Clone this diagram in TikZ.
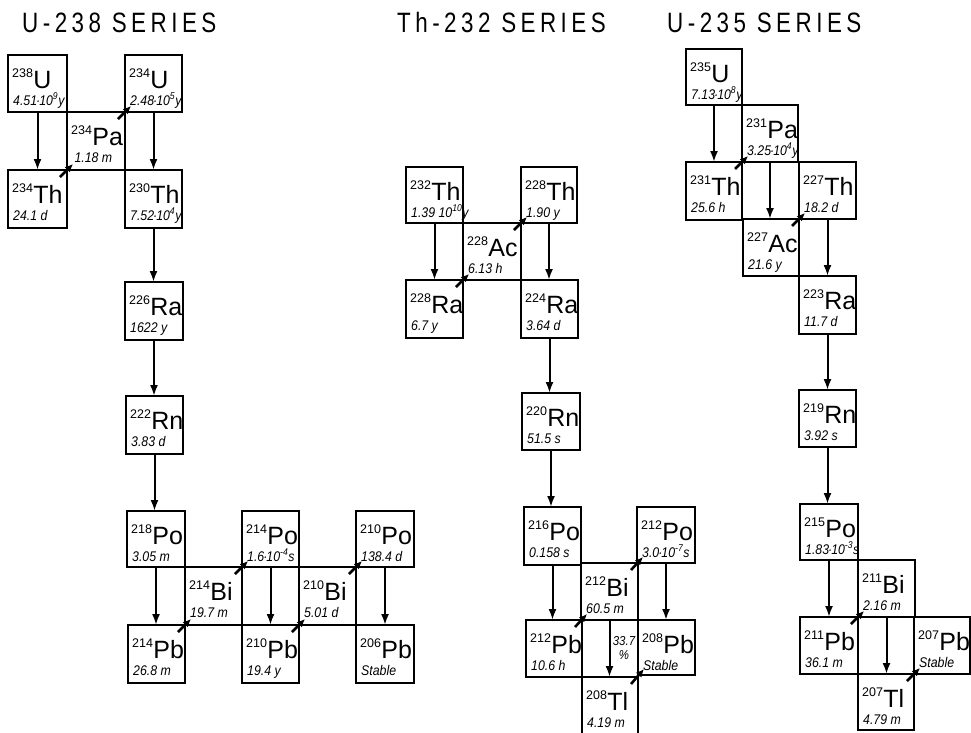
\documentclass[tikz,border=0pt]{standalone}
\usepackage{fontspec}
\setmainfont{Liberation Sans}
\newfontfamily\titlefont[LetterSpace=16,FakeStretch=0.8]{Liberation Sans}
\newfontfamily\hlfont[FakeStretch=0.88]{Liberation Sans}
\usetikzlibrary{arrows.meta,calc}
\newcommand\masssize{\fontsize{12.5}{12.5}\selectfont}
\newcommand\symsize{\fontsize{25}{25}\selectfont}
\newcommand\hlsize{\hlfont\fontsize{14}{14}\selectfont\itshape}
\newcommand\ex[1]{\smash{\textsuperscript{#1}}}
\newcommand\dt{\kern-1pt·\kern-1pt}
\newcommand\nucl[8]{%
  \node[nucbox, minimum width={#4-#2}, minimum height={#5-#3}] (#1) at ({(#2+#4)/2},{(#3+#5)/2}) {};
  \node[anchor=base west, inner sep=0] (#1-sym) at ([shift={(4,33)}]#1.north west) {\raisebox{0pt}[\height][0pt]{\raisebox{11pt}{\masssize #6}\kern0.3pt\symsize #7}};
  \node[anchor=base west, inner sep=0] (#1-hl) at ([shift={(5,50)}]#1.north west) {\hlsize #8};
}
\tikzset{
  nucbox/.style={draw, line width=1.6pt, inner sep=0, outer sep=0},
  alphaarrow/.style={line width=2pt, -{Latex[length=11pt,width=8pt]}},
  betaarrow/.style={line width=2.6pt, -{Latex[length=8pt,width=7.5pt]}},
  serieslabel/.style={anchor=base west, inner sep=0, font=\titlefont\fontsize{28}{28}\selectfont},
  pctlabel/.style={align=center, inner sep=0, font=\hlfont\fontsize{13}{13.5}\selectfont\itshape}
}
\begin{document}
\begin{tikzpicture}[x=1pt,y=-1pt]
\useasboundingbox (0,0) rectangle (971,732);
\node[serieslabel] (t238) at (22,32) {U-238 SERIES};
\node[serieslabel] (t232) at (397,32) {Th-232 SERIES};
\node[serieslabel] (t235) at (667,32) {U-235 SERIES};

% U-238 series
\nucl{u238}{8}{55}{67}{112}{238}{U}{4.51\dt10\ex{9}y}
\nucl{u234}{125}{55}{182}{112}{234}{U}{2.48\dt10\ex{5}y}
\nucl{pa234}{67}{112}{125}{170}{234}{Pa}{\,1.18 m}
\nucl{th234}{8}{170}{67}{228}{234}{Th}{24.1 d}
\nucl{th230}{125}{170}{182}{228}{230}{Th}{7.52\dt10\ex{4}y}
\nucl{ra226}{125}{282}{183}{340}{226}{Ra}{1622 y}
\nucl{rn222}{126}{396}{183}{454}{222}{Rn}{3.83 d}
\nucl{po218}{127}{511}{185}{567}{218}{Po}{3.05 m}
\nucl{bi214}{185}{567}{242}{625}{214}{Bi}{19.7 m}
\nucl{po214}{242}{511}{299}{567}{214}{Po}{1.6\dt10\ex{-4}s}
\nucl{bi210}{299}{567}{356}{625}{210}{Bi}{5.01 d}
\nucl{po210}{356}{511}{414}{567}{210}{Po}{138.4 d}
\nucl{pb214}{128}{625}{185}{683}{214}{Pb}{26.8 m}
\nucl{pb210}{242}{625}{299}{683}{210}{Pb}{19.4 y}
\nucl{pb206}{356}{625}{414}{683}{206}{Pb}{Stable}

% Th-232 series
\nucl{th232}{406}{167}{463}{223}{232}{Th}{1.39 10\ex{10}y}
\nucl{th228}{521}{167}{577}{223}{228}{Th}{1.90 y}
\nucl{ac228}{463}{223}{521}{280}{228}{Ac}{6.13 h}
\nucl{ra228}{406}{280}{463}{338}{228}{Ra}{6.7 y}
\nucl{ra224}{521}{280}{578}{338}{224}{Ra}{3.64 d}
\nucl{rn220}{522}{393}{580}{450}{220}{Rn}{51.5 s}
\nucl{po216}{524}{507}{581}{565}{216}{Po}{0.158 s}
\nucl{po212}{637}{507}{695}{563}{212}{Po}{3.0\dt10\ex{-7}s}
\nucl{bi212}{581}{563}{638}{620}{212}{Bi}{60.5 m}
\nucl{pb212}{526}{620}{582}{677}{212}{Pb}{10.6 h}
\nucl{pb208}{638}{620}{695}{675}{208}{Pb}{Stable}
\nucl{tl208}{582}{677}{638}{745}{208}{Tl}{4.19 m}

% U-235 series
\nucl{u235}{686}{49}{742}{105}{235}{U}{7.13\dt10\ex{8}y}
\nucl{pa231}{742}{105}{798}{162}{231}{Pa}{3.25\dt10\ex{4}y}
\nucl{th231}{686}{162}{742}{220}{231}{Th}{25.6 h}
\nucl{th227}{799}{162}{856}{219}{227}{Th}{18.2 d}
\nucl{ac227}{743}{219}{799}{276}{227}{Ac}{21.6 y}
\nucl{ra223}{799}{276}{856}{334}{223}{Ra}{11.7 d}
\nucl{rn219}{799}{390}{856}{447}{219}{Rn}{3.92 s}
\nucl{po215}{800}{504}{858}{560}{215}{Po}{1.83\dt10\ex{-3}s}
\nucl{bi211}{858}{560}{915}{617}{211}{Bi}{2.16 m}
\nucl{pb211}{800}{617}{858}{674}{211}{Pb}{36.1 m}
\nucl{pb207}{914}{617}{970}{674}{207}{Pb}{Stable}
\nucl{tl207}{858}{674}{914}{730}{207}{Tl}{4.79 m}

% alpha decays
\foreach \a/\b in {u238/th234,u234/th230,th230/ra226,ra226/rn222,rn222/po218,po218/pb214,po214/pb210,po210/pb206,
  th232/ra228,th228/ra224,ra224/rn220,rn220/po216,po216/pb212,po212/pb208,bi212/tl208,
  u235/th231,pa231/ac227,th227/ra223,ra223/rn219,rn219/po215,po215/pb211,bi211/tl207}
  \draw[alphaarrow] (\a.south) -- (\a.south |- \b.north);

% beta decays
\foreach \a/\b in {th234/pa234,pa234/u234,pb214/bi214,bi214/po214,pb210/bi210,bi210/po210,
  ra228/ac228,ac228/th228,pb212/bi212,bi212/po212,tl208/pb208,
  th231/pa231,ac227/th227,pb211/bi211,tl207/pb207}
  \draw[betaarrow] ([shift={(-7,7)}]\a.north east) -- ([shift={(6,-6)}]\b.south west);

\node[pctlabel] (pct) at (624,648) {33.7\\\%};
\end{tikzpicture}
\end{document}
